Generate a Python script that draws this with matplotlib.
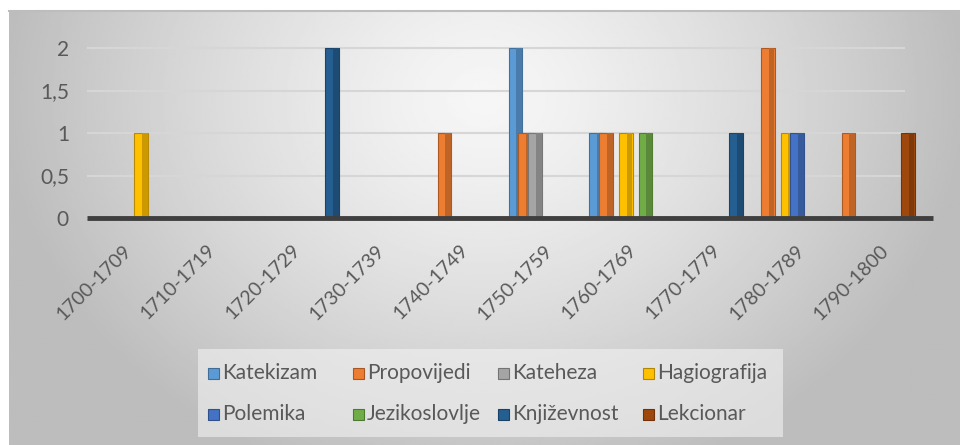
import numpy as np
import matplotlib.pyplot as plt
import matplotlib.colors as mcolors
from matplotlib.patches import Rectangle

plt.rcParams['font.family'] = ['Lato', 'DejaVu Sans']

W, H = 960, 445

categories = ['1700-1709', '1710-1719', '1720-1729', '1730-1739', '1740-1749',
              '1750-1759', '1760-1769', '1770-1779', '1780-1789', '1790-1800']

katekizam = [0, 0, 0, 0, 0, 2, 1, 0, 0, 0]
propovijedi = [0, 0, 0, 0, 1, 1, 1, 0, 2, 1]
kateheza = [0, 0, 0, 0, 0, 1, 0, 0, 0, 0]
hagiografija = [1, 0, 0, 0, 0, 0, 1, 0, 1, 0]
polemika = [0, 0, 0, 0, 0, 0, 0, 0, 1, 0]
jezikoslovlje = [0, 0, 0, 0, 0, 0, 1, 0, 0, 0]
knjizevnost = [0, 0, 2, 0, 0, 0, 0, 1, 0, 0]
lekcionar = [0, 0, 0, 0, 0, 0, 0, 0, 0, 1]

series = [katekizam, propovijedi, kateheza, hagiografija,
          polemika, jezikoslovlje, knjizevnost, lekcionar]
names = ['Katekizam', 'Propovijedi', 'Kateheza', 'Hagiografija',
         'Polemika', 'Jezikoslovlje', 'Književnost', 'Lekcionar']
colors = ['#5B9BD5', '#ED7D31', '#A5A5A5', '#FFC000',
          '#4472C4', '#70AD47', '#255E91', '#9E480E']

yticks = [0, 0.5, 1, 1.5, 2]
ytick_labels = ['0', '0,5', '1', '1,5', '2']

text_col = '#595959'


def shade(c, f):
    r, g, b = mcolors.to_rgb(c)
    return (r * f, g * f, b * f)


fig = plt.figure(figsize=(W / 100, H / 100), dpi=100)

# chart area background (soft radial gradient)
bg = fig.add_axes([9 / W, 0, 1 - 9 / W, (H - 11) / H])
yy, xx = np.mgrid[0:1:220j, 0:1:480j]
d = np.sqrt(((xx - 0.5) / 0.55) ** 2 + ((yy - 0.2) / 1.0) ** 2)
img = np.clip(0.965 - 0.25 * d ** 1.3, 0.74, 1)
bg.imshow(img, cmap='gray', vmin=0, vmax=1, aspect='auto',
          extent=[0, 1, 0, 1], origin='upper', interpolation='bilinear')
bg.set_xlim(0, 1)
bg.set_ylim(0, 1)
bg.axis('off')
bg.plot([0, 1], [1, 1], color='#BDBDBD', lw=1.5, clip_on=False)

ax = fig.add_axes([87 / W, (H - 218) / H, 846 / W, 187 / H])
ax.patch.set_alpha(0)
ax.set_xlim(-0.73, 9.74)
ax.set_ylim(0, 2.2)

slot = 0.122
bw = 0.17
idx = np.arange(len(categories))
for k, (vals, c) in enumerate(zip(series, colors)):
    vals = np.array(vals, dtype=float)
    m = vals > 0
    x = idx[m] + (k - 3.5) * slot
    ax.bar(x, vals[m], bw, color=c, edgecolor=shade(c, 0.72), linewidth=0.8,
           zorder=3 + k * 0.1)
    ax.bar(x + bw * 0.27, vals[m], bw * 0.42, color=shade(c, 0.8),
           linewidth=0, zorder=3.05 + k * 0.1)

ax.hlines(yticks[1:], -0.73, 9.39, color='#D6D6D6', lw=1.5, zorder=1)
ax.plot([-0.73, 9.74], [0, 0], color='#3F3F3F', lw=3.5, zorder=5,
        clip_on=False, solid_capstyle='butt')

for s in ax.spines.values():
    s.set_visible(False)

ax.set_yticks(yticks)
ax.set_yticklabels(ytick_labels)
# labels sit on the front edge of the 3D floor, which is a bit wider
ax.set_xticks(idx * 1.041 - 0.137)
ax.set_xticklabels(categories, rotation=45, ha='right', va='top')
ax.tick_params(axis='y', length=0, pad=13, labelsize=15, labelcolor=text_col)
ax.tick_params(axis='x', length=0, pad=17, labelsize=14, labelcolor=text_col)

# legend (uniform column widths as in the original)
fig.patches.append(Rectangle((198 / W, (H - 437) / H), 585 / W, 88 / H,
                             transform=fig.transFigure, facecolor='#F2F2F2',
                             alpha=0.6, edgecolor='none'))
for k, (name, c) in enumerate(zip(names, colors)):
    col, row = k % 4, k // 4
    x0 = 208 + col * 145
    yc = 373 + row * 41
    fig.patches.append(Rectangle((x0 / W, (H - yc - 5.5) / H), 11 / W, 11 / H,
                                 transform=fig.transFigure, facecolor=c,
                                 edgecolor=shade(c, 0.7), linewidth=0.8))
    fig.text((x0 + 14) / W, (H - yc) / H, name, fontsize=15, color=text_col,
             ha='left', va='center')

fig.savefig('out.png', dpi=100)
